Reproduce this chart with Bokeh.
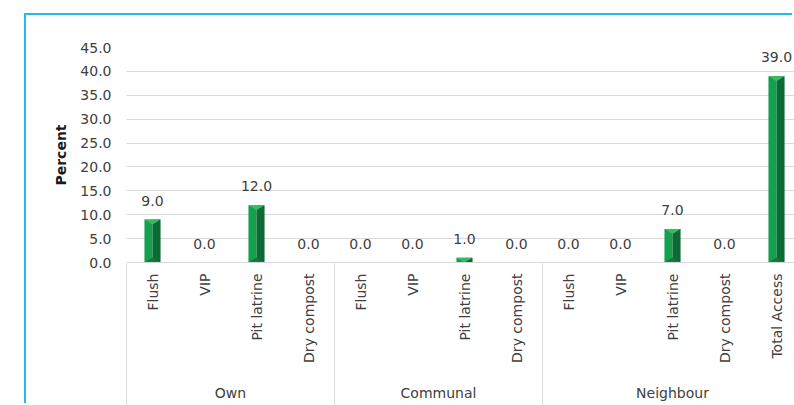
import numpy as np
from bokeh.plotting import figure
from bokeh.models import (Range1d, LinearAxis, FixedTicker, NumeralTickFormatter,
                          ColumnDataSource)
from bokeh.embed import file_html
from bokeh.resources import INLINE
from bokeh.core.properties import value

# ---------------- data ----------------
groups = ["Own", "Own", "Own", "Own",
          "Communal", "Communal", "Communal", "Communal",
          "Neighbour", "Neighbour", "Neighbour", "Neighbour", "Neighbour"]
categories = ["Flush", "VIP", "Pit latrine", "Dry compost",
              "Flush", "VIP", "Pit latrine", "Dry compost",
              "Flush", "VIP", "Pit latrine", "Dry compost", "Total Access"]
percent = [9.0, 0.0, 12.0, 0.0,
           0.0, 0.0, 1.0, 0.0,
           0.0, 0.0, 7.0, 0.0, 39.0]
y_ticks = [0, 5, 10, 15, 20, 25, 30, 35, 40, 45]
y_title = "Percent"

# ---------------- style ----------------
FONT = "DejaVu Sans"
TEXT = "#404040"
GRID = "#d9d9d9"
FRAME = "#2bb5e8"
C_LEFT = "#14a04e"
C_RIGHT = "#0c6b35"
C_TOP = "#3dba61"
C_BOTTOM = "#0e7a3c"
BAR_W = 0.31
BEVEL = 1.05
FS = "14px"

n = len(categories)
xc = np.arange(n) + 0.5
vals = np.array(percent, dtype=float)
nz = vals > 0

seps = [float(i) for i in range(n) if i == 0 or groups[i] != groups[i - 1]]
group_names = []
group_pos = []
for g in dict.fromkeys(groups):
    idx = [i for i in range(n) if groups[i] == g]
    group_names.append(g)
    group_pos.append(float(np.mean(xc[idx])))

p = figure(width=768, height=390, output_backend="svg", toolbar_location=None,
           x_range=Range1d(0, 12.846), y_range=Range1d(0, 45),
           x_axis_location=None, y_axis_location="left",
           min_border_left=100, min_border_right=0,
           min_border_top=32, min_border_bottom=142,
           margin=(15, 0, 0, 26),
           styles={"box-shadow": "-2px -2px 0 0 " + FRAME})
p.outline_line_color = None
p.background_fill_color = "white"
p.border_fill_color = "white"
p.xgrid.visible = False
p.ygrid.ticker = FixedTicker(ticks=y_ticks)
p.ygrid.grid_line_color = GRID
p.ygrid.grid_line_width = 1

yax = p.yaxis[0]
yax.ticker = FixedTicker(ticks=y_ticks)
yax.formatter = NumeralTickFormatter(format="0.0")
yax.axis_line_color = None
yax.major_tick_line_color = None
yax.minor_tick_line_color = None
yax.major_tick_out = 0
yax.major_tick_in = 0
yax.major_label_standoff = 15
yax.major_label_text_font = FONT
yax.major_label_text_font_size = FS
yax.major_label_text_color = TEXT
yax.axis_label = y_title
yax.axis_label_text_font = FONT
yax.axis_label_text_font_size = FS
yax.axis_label_text_font_style = "bold"
yax.axis_label_text_color = "#1a1a1a"
yax.axis_label_standoff = 8

# category axis (rotated labels)
ax1 = LinearAxis(ticker=FixedTicker(ticks=[float(v) for v in xc], minor_ticks=[]),
                 major_label_overrides={float(x): c for x, c in zip(xc, categories)},
                 major_label_orientation=np.pi / 2)
ax1.axis_line_color = GRID
ax1.axis_line_width = 1
ax1.major_tick_line_color = None
ax1.major_tick_out = 0
ax1.major_tick_in = 0
ax1.minor_tick_line_color = None
ax1.minor_tick_out = 0
ax1.minor_tick_in = 0
ax1.major_label_standoff = 11
ax1.major_label_text_font = FONT
ax1.major_label_text_font_size = FS
ax1.major_label_text_color = TEXT
p.add_layout(ax1, "below")

# group axis
ax2 = LinearAxis(ticker=FixedTicker(ticks=group_pos, minor_ticks=[]),
                 major_label_overrides={x: g for x, g in zip(group_pos, group_names)})
ax2.axis_line_color = None
ax2.major_tick_line_color = None
ax2.minor_tick_line_color = None
ax2.major_tick_out = 0
ax2.major_tick_in = 0
ax2.minor_tick_out = 0
ax2.minor_tick_in = 0
ax2.major_label_standoff = 19
ax2.major_label_text_font = FONT
ax2.major_label_text_font_size = FS
ax2.major_label_text_color = TEXT
p.add_layout(ax2, "below")

# group separator lines (ticks pointing back up to the category axis)
ax3 = LinearAxis(ticker=FixedTicker(ticks=seps, minor_ticks=[]),
                 major_label_overrides={s: "" for s in seps})
ax3.axis_line_color = None
ax3.major_tick_line_color = GRID
ax3.major_tick_line_width = 1
ax3.major_tick_in = 140
ax3.major_tick_out = 2
ax3.minor_tick_line_color = None
ax3.minor_tick_out = 0
ax3.minor_tick_in = 0
ax3.major_label_standoff = 0
ax3.major_label_text_font_size = "0px"
p.add_layout(ax3, "below")

# bars with bevel look
xb = xc[nz]
vb = vals[nz]
src = ColumnDataSource(dict(xl=xb - BAR_W / 4, xr=xb + BAR_W / 4, v=vb))
p.vbar(x="xl", width=BAR_W / 2, top="v", bottom=0, source=src,
       fill_color=C_LEFT, line_color=None)
p.vbar(x="xr", width=BAR_W / 2, top="v", bottom=0, source=src,
       fill_color=C_RIGHT, line_color=None)
tri_xs = [[x - BAR_W / 2, x + BAR_W / 2, x] for x in xb]
tri_ys = [[v, v, v - min(BEVEL, v)] for v in vb]
p.patches(xs=tri_xs, ys=tri_ys, fill_color=C_TOP, line_color=None)
tall = vb >= 3 * BEVEL
bot_xs = [[x - BAR_W / 2, x + BAR_W / 2, x] for x in xb[tall]]
bot_ys = [[0, 0, BEVEL] for _ in vb[tall]]
p.patches(xs=bot_xs, ys=bot_ys, fill_color=C_BOTTOM, line_color=None)

# data labels
lab = ColumnDataSource(dict(x=xc, y=vals, t=["%.1f" % v for v in vals]))
p.text(x="x", y="y", text="t", source=lab, text_align="center",
       text_baseline="alphabetic", y_offset=-19,
       text_font=value(FONT), text_font_size=FS, text_color=TEXT)

open("out.html", "w").write(file_html(p, INLINE))
